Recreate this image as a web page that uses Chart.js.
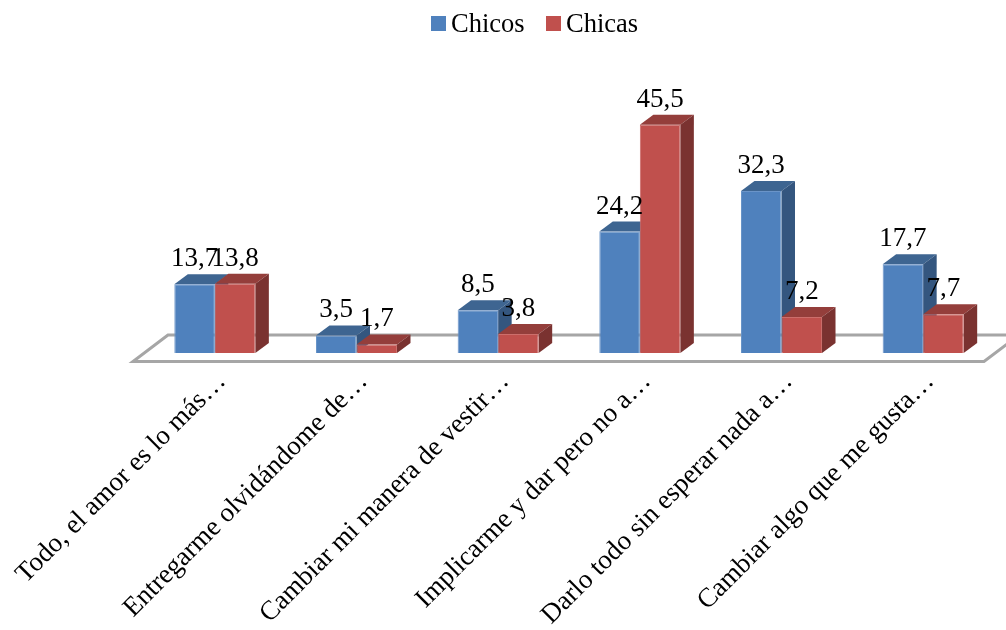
<!DOCTYPE html>
<html>
<head>
<meta charset="utf-8">
<script src="https://cdn.jsdelivr.net/npm/chart.js@4"></script>
<style>
  html, body { margin: 0; padding: 0; background: #fff; overflow: hidden; }
  #wrap { width: 1006px; height: 630px; }
</style>
</head>
<body>
<div id="wrap"><canvas id="grafico"></canvas></div>
<script>
const categorias = [
    "Todo, el amor es lo más…",
    "Entregarme olvidándome de…",
    "Cambiar mi manera de vestir…",
    "Implicarme y dar pero no a…",
    "Darlo todo sin esperar nada a…",
    "Cambiar algo que me gusta…"
];
const chicos = [13.7, 3.5, 8.5, 24.2, 32.3, 17.7];
const chicas = [13.8, 1.7, 3.8, 45.5, 7.2, 7.7];

const fuente = "'Liberation Serif', serif";
const caras = [
    { frente: "#4F81BD", borde: "#6A94C8", arriba: "#3E6591", lado: "#34567F" },
    { frente: "#C0504D", borde: "#CC6E6B", arriba: "#943E3B", lado: "#7A3230" }
];

// suelo gris y caras superior/lateral de las barras (van detras del frente)
const relieve = {
    id: "relieve",
    beforeDatasetsDraw(chart) {
        const ctx = chart.ctx;
        const base = chart.scales.y.getPixelForValue(0);
        const area = chart.chartArea;
        ctx.save();
        ctx.strokeStyle = "#A6A6A6";
        ctx.lineWidth = 3;
        ctx.lineJoin = "miter";
        ctx.beginPath();
        ctx.moveTo(area.left + 24, base - 18);
        ctx.lineTo(area.left - 11, base + 8.5);
        ctx.lineTo(area.right - 10, base + 8.5);
        ctx.lineTo(area.right + 25, base - 18);
        ctx.closePath();
        ctx.stroke();
        ctx.restore();

        const dx = 13.5, dy = 10;
        chart.data.datasets.forEach((ds, i) => {
            chart.getDatasetMeta(i).data.forEach(bar => {
                const izq = bar.x - bar.width / 2;
                const der = bar.x + bar.width / 2;
                ctx.fillStyle = caras[i].arriba;
                ctx.beginPath();
                ctx.moveTo(izq, bar.y);
                ctx.lineTo(izq + dx, bar.y - dy);
                ctx.lineTo(der + dx, bar.y - dy);
                ctx.lineTo(der, bar.y);
                ctx.closePath();
                ctx.fill();
                ctx.fillStyle = caras[i].lado;
                ctx.beginPath();
                ctx.moveTo(der, bar.y);
                ctx.lineTo(der + dx, bar.y - dy);
                ctx.lineTo(der + dx, base - dy);
                ctx.lineTo(der, base);
                ctx.closePath();
                ctx.fill();
            });
        });
    }
};

// etiquetas de datos con coma decimal
const etiquetas = {
    id: "etiquetas",
    afterDatasetsDraw(chart) {
        const ctx = chart.ctx;
        ctx.save();
        ctx.font = "27px " + fuente;
        ctx.fillStyle = "#000";
        ctx.textAlign = "center";
        ctx.textBaseline = "alphabetic";
        chart.data.datasets.forEach((ds, i) => {
            chart.getDatasetMeta(i).data.forEach((bar, j) => {
                ctx.fillText(ds.data[j].toFixed(1).replace(".", ","), bar.x, bar.y - 18);
            });
        });
        ctx.restore();
    }
};

// leyenda centrada en el lienzo, no en el area del grafico
const leyenda = {
    id: "leyenda",
    afterDraw(chart) {
        const ctx = chart.ctx;
        const cajas = [431, 546];
        ctx.save();
        ctx.font = "26.5px " + fuente;
        ctx.textAlign = "left";
        ctx.textBaseline = "alphabetic";
        chart.data.datasets.forEach((ds, i) => {
            ctx.fillStyle = ds.backgroundColor;
            ctx.fillRect(cajas[i], 16, 15, 15);
            ctx.fillStyle = "#000";
            ctx.fillText(ds.label, cajas[i] + 20, 32);
        });
        ctx.restore();
    }
};

new Chart(document.getElementById("grafico"), {
    type: "bar",
    data: {
        labels: categorias,
        datasets: [
            { label: "Chicos", data: chicos, backgroundColor: caras[0].frente, borderColor: caras[0].borde, borderWidth: 1 },
            { label: "Chicas", data: chicas, backgroundColor: caras[1].frente, borderColor: caras[1].borde, borderWidth: 1 }
        ]
    },
    options: {
        responsive: true,
        maintainAspectRatio: false,
        animation: false,
        categoryPercentage: 0.572,
        barPercentage: 1,
        layout: { padding: { left: 144, right: 12, top: 47, bottom: 0 } },
        plugins: {
            tooltip: { enabled: false },
            legend: { display: false }
        },
        scales: {
            x: {
                grid: { display: false },
                border: { display: false },
                afterFit(scale) { scale.height = 277; scale.paddingLeft = 0; scale.paddingRight = 0; },
                ticks: {
                    color: "#000",
                    font: { family: fuente, size: 27 },
                    autoSkip: false,
                    minRotation: 45,
                    maxRotation: 45,
                    padding: 5,
                    labelOffset: 7
                }
            },
            y: { display: false, min: 0, max: 61 }
        }
    },
    plugins: [relieve, etiquetas, leyenda]
});
</script>
</body>
</html>
